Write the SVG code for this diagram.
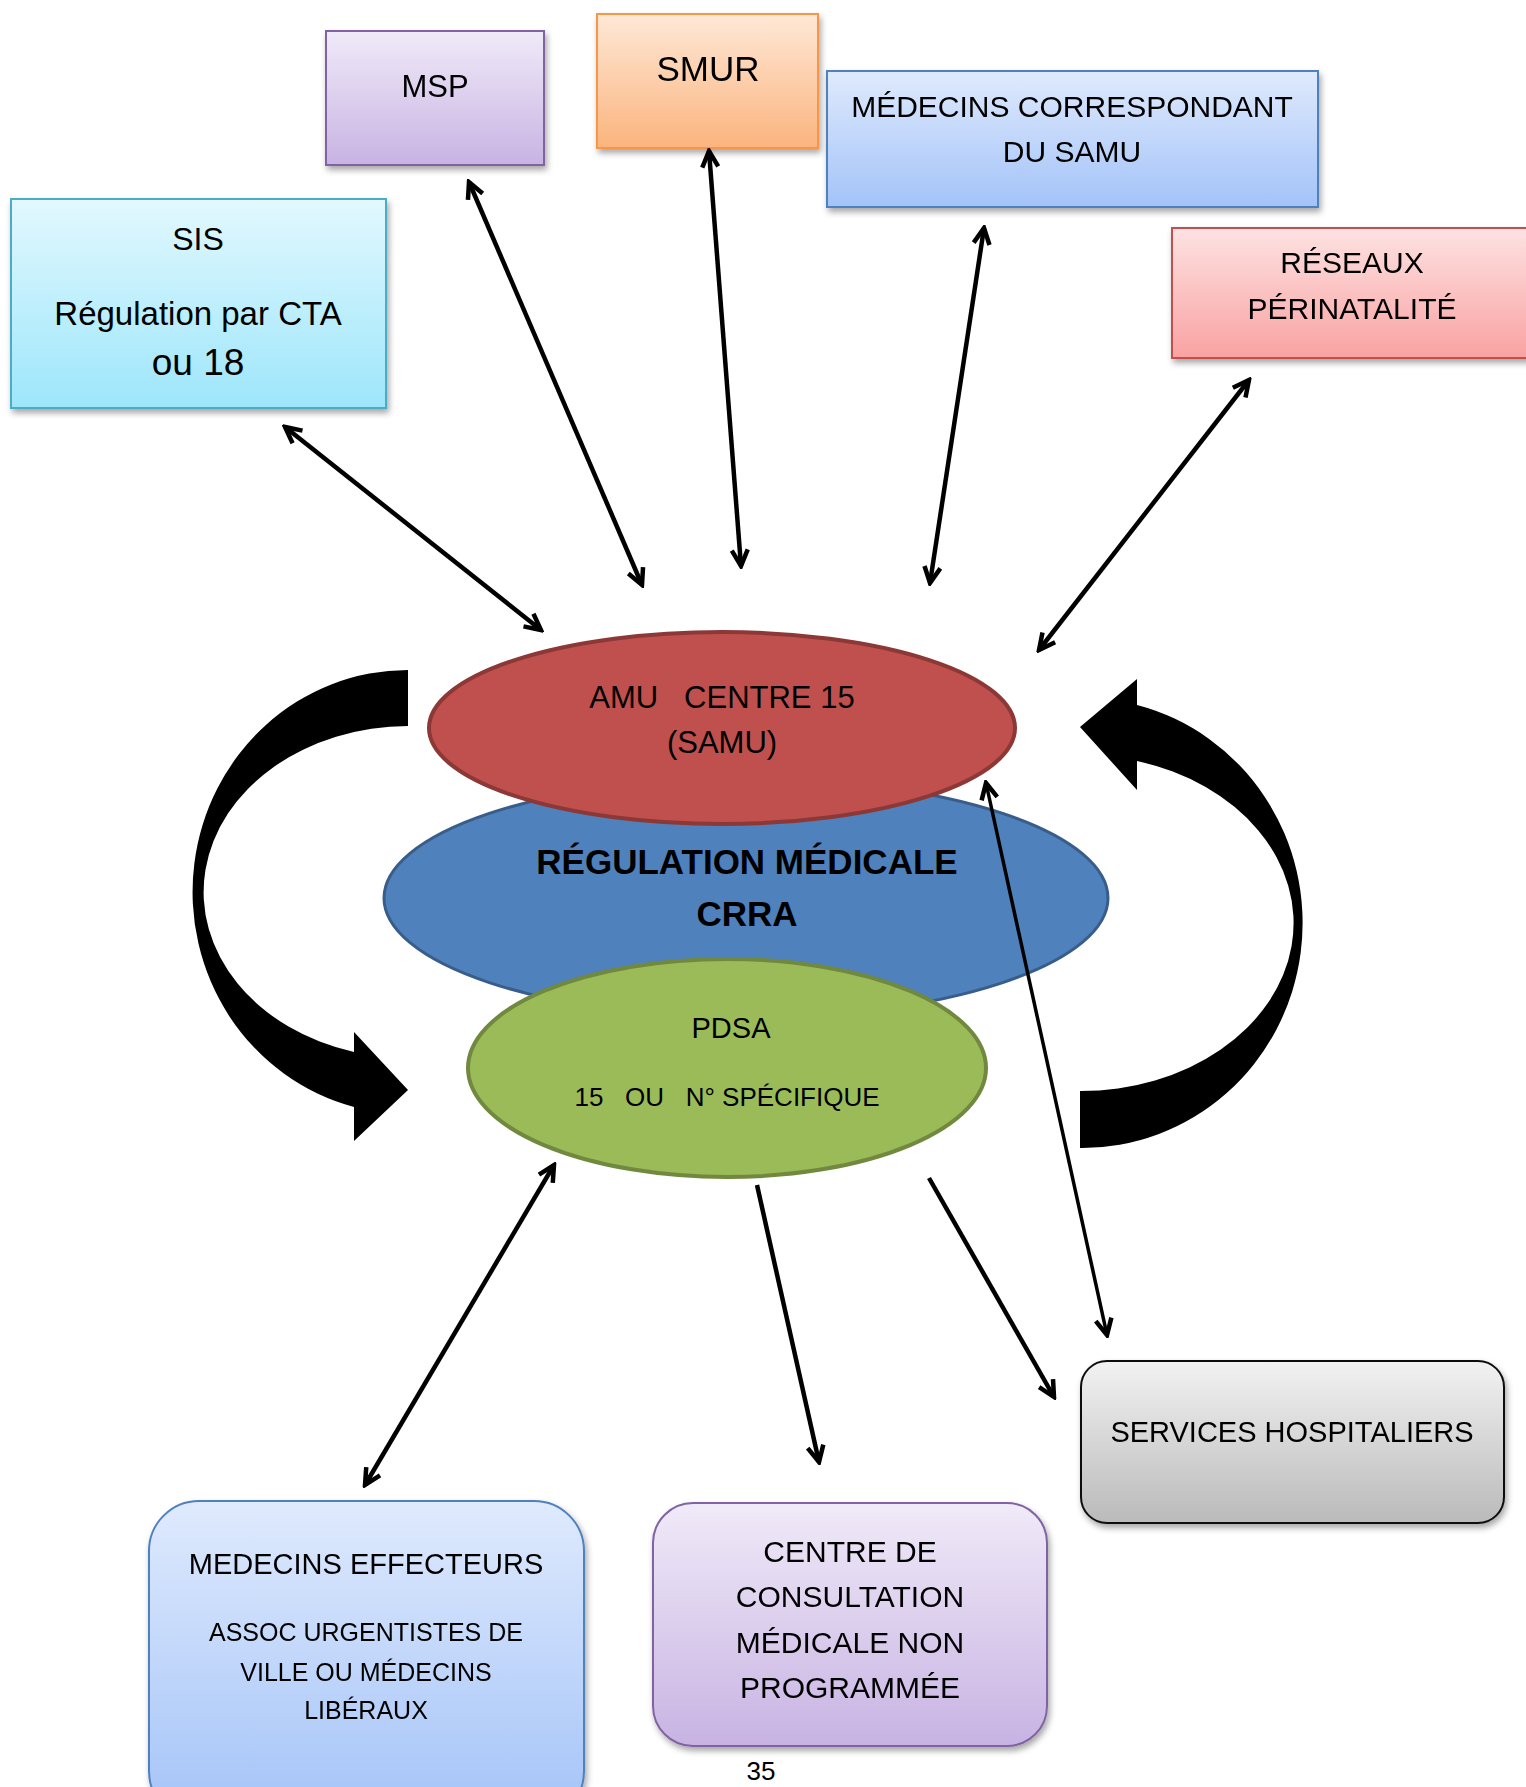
<svg xmlns="http://www.w3.org/2000/svg" width="1526" height="1787" viewBox="0 0 1526 1787">
<style>
text{font-family:"Liberation Sans",Arial,sans-serif;fill:#000;text-anchor:middle;white-space:pre}
.box{filter:url(#sh)}
.con line{stroke:#000;stroke-width:4.5;fill:none}
</style>
<defs>
<filter id="sh" x="-10%" y="-10%" width="130%" height="130%"><feDropShadow dx="2" dy="4" stdDeviation="3" flood-color="#000" flood-opacity="0.35"/></filter>
<linearGradient id="gSis" x1="0" y1="0" x2="0" y2="1"><stop offset="0" stop-color="#e2f8fe"/><stop offset="1" stop-color="#9de6fb"/></linearGradient>
<linearGradient id="gLav" x1="0" y1="0" x2="0" y2="1"><stop offset="0" stop-color="#f0eaf8"/><stop offset="1" stop-color="#c8b3e3"/></linearGradient>
<linearGradient id="gOr" x1="0" y1="0" x2="0" y2="1"><stop offset="0" stop-color="#fee8d6"/><stop offset="1" stop-color="#fbb47e"/></linearGradient>
<linearGradient id="gBl" x1="0" y1="0" x2="0" y2="1"><stop offset="0" stop-color="#dfeafd"/><stop offset="1" stop-color="#a3c3f8"/></linearGradient>
<linearGradient id="gPk" x1="0" y1="0" x2="0" y2="1"><stop offset="0" stop-color="#fee2e2"/><stop offset="1" stop-color="#f9a2a1"/></linearGradient>
<linearGradient id="gGr" x1="0" y1="0" x2="0" y2="1"><stop offset="0" stop-color="#f2f2f2"/><stop offset="1" stop-color="#bababa"/></linearGradient>
<marker id="ah" markerUnits="userSpaceOnUse" viewBox="0 0 22 22" markerWidth="22" markerHeight="22" refX="19" refY="11" orient="auto-start-reverse"><path d="M3,3 L19,11 L3,19" fill="none" stroke="#000" stroke-width="4.5" stroke-linejoin="miter"/></marker>
</defs>

<g id="sis" class="box"><rect x="11" y="199" width="375" height="209" fill="url(#gSis)" stroke="#4bacc6" stroke-width="2"/></g>
<g id="sis-t"><text x="198" y="250" font-size="32">SIS</text><text x="198" y="325" font-size="33">Régulation par CTA</text><text x="198" y="375" font-size="37">ou 18</text></g>

<g id="msp" class="box"><rect x="326" y="31" width="218" height="134" fill="url(#gLav)" stroke="#8064a2" stroke-width="2"/><text x="435" y="97" font-size="31">MSP</text></g>

<g id="smur" class="box"><rect x="597" y="14" width="221" height="134" fill="url(#gOr)" stroke="#f79646" stroke-width="2"/><text x="708" y="81" font-size="35">SMUR</text></g>

<g id="medcorr" class="box"><rect x="827" y="71" width="491" height="136" fill="url(#gBl)" stroke="#4f81bd" stroke-width="2"/><text x="1072" y="117" font-size="30">MÉDECINS CORRESPONDANT</text><text x="1072" y="162" font-size="30">DU SAMU</text></g>

<g id="reseaux" class="box"><rect x="1172" y="228" width="370" height="130" fill="url(#gPk)" stroke="#c0504d" stroke-width="2"/><text x="1352" y="273" font-size="30">RÉSEAUX</text><text x="1352" y="319" font-size="30">PÉRINATALITÉ</text></g>

<g id="crra"><ellipse cx="746" cy="898" rx="362" ry="120" fill="#4f81bd" stroke="#385d8a" stroke-width="3"/><text x="747" y="874" font-size="35" font-weight="bold">RÉGULATION MÉDICALE</text><text x="747" y="926" font-size="35" font-weight="bold">CRRA</text></g>

<g id="amu"><ellipse cx="722" cy="728" rx="293" ry="96" fill="#c0504d" stroke="#8c3836" stroke-width="4"/><text x="722" y="708" font-size="31">AMU   CENTRE 15</text><text x="722" y="753" font-size="31">(SAMU)</text></g>

<g id="pdsa"><ellipse cx="727" cy="1068" rx="259" ry="109" fill="#9bbb59" stroke="#71893f" stroke-width="4"/><text x="731" y="1038" font-size="29">PDSA</text><text x="727" y="1106" font-size="26">15   OU   N° SPÉCIFIQUE</text></g>

<g id="services" class="box"><rect x="1081" y="1361" width="423" height="162" rx="26" fill="url(#gGr)" stroke="#111" stroke-width="2"/><text x="1292" y="1442" font-size="29">SERVICES HOSPITALIERS</text></g>

<g id="effecteurs" class="box"><rect x="149" y="1501" width="435" height="320" rx="50" fill="url(#gBl)" stroke="#4f81bd" stroke-width="2"/><text x="366" y="1574" font-size="29">MEDECINS EFFECTEURS</text><text x="366" y="1641" font-size="25">ASSOC URGENTISTES DE</text><text x="366" y="1681" font-size="25">VILLE OU MÉDECINS</text><text x="366" y="1719" font-size="25">LIBÉRAUX</text></g>

<g id="centre" class="box"><rect x="653" y="1503" width="394" height="243" rx="40" fill="url(#gLav)" stroke="#8064a2" stroke-width="2"/><text x="850" y="1562" font-size="30">CENTRE DE</text><text x="850" y="1607" font-size="30">CONSULTATION</text><text x="850" y="1653" font-size="30">MÉDICALE NON</text><text x="850" y="1698" font-size="30">PROGRAMMÉE</text></g>

<g id="connectors" class="con">
<line x1="285" y1="427" x2="541" y2="630" marker-start="url(#ah)" marker-end="url(#ah)"/>
<line x1="469" y1="182" x2="642" y2="585" marker-start="url(#ah)" marker-end="url(#ah)"/>
<line x1="709" y1="151" x2="741" y2="566" marker-start="url(#ah)" marker-end="url(#ah)"/>
<line x1="984" y1="228" x2="930" y2="583" marker-start="url(#ah)" marker-end="url(#ah)"/>
<line x1="1249" y1="380" x2="1039" y2="650" marker-start="url(#ah)" marker-end="url(#ah)"/>
<line x1="986" y1="783" x2="1107" y2="1335" marker-start="url(#ah)" marker-end="url(#ah)" style="stroke-width:3.5"/>
<line x1="554" y1="1165" x2="365" y2="1485" marker-start="url(#ah)" marker-end="url(#ah)"/>
<line x1="757" y1="1185" x2="819" y2="1462" marker-end="url(#ah)"/>
<line x1="929" y1="1178" x2="1054" y2="1397" marker-end="url(#ah)"/>
<path id="curve-left" d="M 408 670 A 215 222 0 0 0 354 1107 L 354 1141 L 408 1090 L 354 1032 L 354 1052 A 205 166 0 0 1 408 726 Z" fill="#000"/>
<path id="curve-right" d="M 1080 1148 A 220 225 0 0 0 1137 705 L 1137 679 L 1080 727 L 1137 790 L 1137 761 A 213 168 0 0 1 1080 1091 Z" fill="#000"/>
</g>

<text x="761" y="1780" font-size="26">35</text>
</svg>
